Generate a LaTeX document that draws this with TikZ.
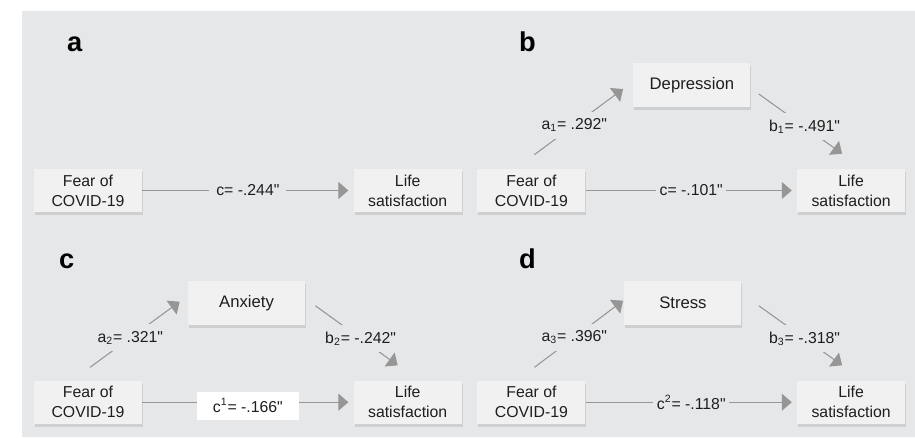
\documentclass[tikz,border=0pt]{standalone}
\usepackage{xcolor}
\usepackage{fontspec}
\setmainfont{Liberation Sans}
\usepackage{tikz}
\usetikzlibrary{arrows.meta, positioning, shadows}
\definecolor{bggrey}{RGB}{230,231,233}
\definecolor{boxgrey}{RGB}{241,241,241}
\definecolor{linegrey}{RGB}{150,150,150}
\definecolor{txtdark}{RGB}{30,30,30}
\newcommand{\sig}{\textquotedbl}
\tikzset{
  varbox/.style={rectangle, fill=boxgrey, draw=none,
    minimum width=2.16cm, minimum height=0.86cm, align=center,
    inner sep=1pt, text=txtdark, font=\fontsize{9}{11.4}\selectfont,
    drop shadow={shadow xshift=0.6pt, shadow yshift=-1.6pt,
      opacity=0.10, fill=black}},
  medbox/.style={varbox, minimum width=2.34cm, minimum height=0.88cm,
    font=\fontsize{9.5}{11.4}\selectfont},
  panel/.style={anchor=base west, text=black,
    font=\fontsize{15.5}{18}\selectfont\bfseries},
  coef/.style={fill=bggrey, text=txtdark, inner xsep=2pt, inner ysep=4pt,
    font=\fontsize{9}{11}\selectfont},
  arrow/.style={-{Triangle[length=0.2cm, width=0.34cm]}, draw=linegrey,
    line width=0.6pt, shorten >=0.1cm}
}

\begin{document}
\begin{tikzpicture}[node distance=0.3cm and 4.22cm]
  \useasboundingbox (0,0) rectangle (18.3,8.74);
  \fill[bggrey] (0.44,0) rectangle (18.3,8.52);

  \node[panel] (pa) at (1.22,7.7) {a};
  \node[panel] (pb) at (10.26,7.7) {b};
  \node[panel] (pc) at (1.06,3.38) {c};
  \node[panel] (pd) at (10.26,3.38) {d};

  \node[varbox] (fa) at (1.76,4.93) {Fear of\\COVID-19};
  \node[varbox, right=of fa] (la) {Life\\satisfaction};
  \node[varbox, right=0.3cm of la] (fb) {Fear of\\COVID-19};
  \node[varbox, right=of fb] (lb) {Life\\satisfaction};
  \node[varbox, below=3.36cm of fa] (fc) {Fear of\\COVID-19};
  \node[varbox, right=of fc] (lc) {Life\\satisfaction};
  \node[varbox, right=0.3cm of lc] (fd) {Fear of\\COVID-19};
  \node[varbox, right=of fd] (ld) {Life\\satisfaction};

  \node[medbox] (dep) at ([xshift=3.21cm, yshift=2.11cm]fb) {Depression};
  \node[medbox] (anx) at ([xshift=3.17cm, yshift=1.98cm]fc) {Anxiety};
  \node[medbox] (str) at ([xshift=3.03cm, yshift=1.98cm]fd) {Stress};

  \draw[arrow] (fa) -- node[coef, inner xsep=4pt] {c= -.244\sig} (la);

  \draw[arrow] (fb) -- node[coef] {c= -.101\sig} (lb);
  \draw[arrow, shorten >=0pt] ([xshift=0.06cm, yshift=0.28cm]fb.north)
    -- node[coef, pos=0.45] {a\textsubscript{1}= .292\sig}
    ([xshift=-0.2cm, yshift=-0.08cm]dep.west);
  \draw[arrow, shorten >=0pt] ([xshift=0.16cm, yshift=-0.18cm]dep.east)
    -- node[coef, pos=0.55] {b\textsubscript{1}= -.491\sig}
    ([xshift=-0.18cm, yshift=0.3cm]lb.north);

  \draw[arrow] (fc) -- node[coef, fill=white, yshift=-0.07cm,
    minimum width=2.04cm, minimum height=0.5cm] {c\textsuperscript{1}= -.166\sig} (lc);
  \draw[arrow, shorten >=0pt] ([xshift=0.04cm, yshift=0.26cm]fc.north)
    -- node[coef, pos=0.45] {a\textsubscript{2}= .321\sig}
    ([xshift=-0.16cm, yshift=0.03cm]anx.west);
  \draw[arrow, shorten >=0pt] ([xshift=0.2cm, yshift=-0.05cm]anx.east)
    -- node[coef, pos=0.55] {b\textsubscript{2}= -.242\sig}
    ([xshift=-0.2cm, yshift=0.3cm]lc.north);

  \draw[arrow] (fd) -- node[coef] {c\textsuperscript{2}= -.118\sig} (ld);
  \draw[arrow, shorten >=0pt] ([xshift=0.06cm, yshift=0.26cm]fd.north)
    -- node[coef, pos=0.45] {a\textsubscript{3}= .396\sig}
    ([xshift=-0.02cm, yshift=0.05cm]str.west);
  \draw[arrow, shorten >=0pt] ([xshift=0.34cm, yshift=-0.05cm]str.east)
    -- node[coef, pos=0.55] {b\textsubscript{3}= -.318\sig}
    ([xshift=-0.18cm, yshift=0.3cm]ld.north);
\end{tikzpicture}
\end{document}
